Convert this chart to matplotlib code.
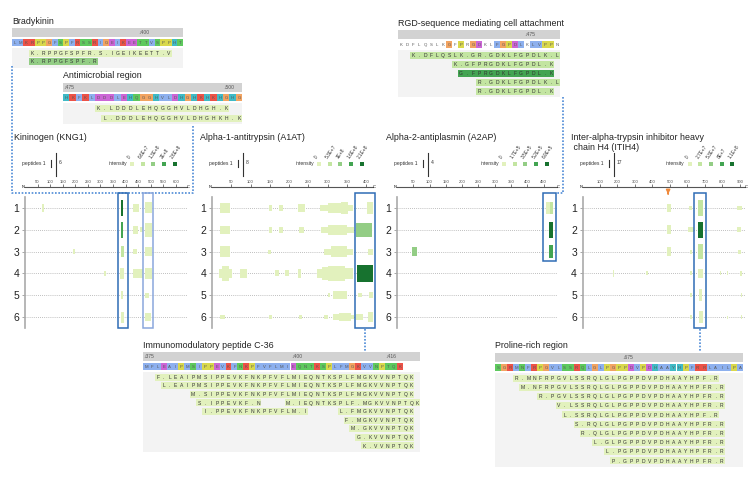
import numpy as np
import matplotlib.pyplot as plt
from matplotlib.patches import Rectangle

plt.rcParams['font.family'] = ['Liberation Sans', 'DejaVu Sans']

# ---------------- data ----------------
# intensity colour scale, level 0 (lowest) .. 4 (highest)
greens = ['#e2f1bd', '#c3e5a1', '#93cd85', '#43a452', '#17722f']

aa_colors = {}
for a in 'AILMFWVC':
    aa_colors[a] = '#8db0ee'
for a in 'KR':
    aa_colors[a] = '#ec5247'
for a in 'ED':
    aa_colors[a] = '#cc66d6'
for a in 'NQST':
    aa_colors[a] = '#5ec95e'
for a in 'HY':
    aa_colors[a] = '#3fbac6'
aa_colors['G'] = '#f2a462'
aa_colors['P'] = '#d9d84c'

# sequence blocks: sequence, number of first residue, marked residues,
# peptides = (text, sequence index of first char, intensity level)
brady_seq = 'LMKRPPGFSPFRSSRIGEIKEETTVSPPHT'
brady_first = 378
brady_marks = [400]
brady_peps = [('K.RPPGFSPFR.S.IGEIKEETT.V', 3, 0), ('K.RPPGFSPF.R', 3, 2)]

anti_seq = 'HKFKLDDDLEHQGGHVLDHGHKHKHGHG'
anti_first = 475
anti_marks = [475, 500]
anti_peps = [('K.LDDDLEHQGGHVLDHGH.K', 5, 0), ('L.DDDLEHQGGHVLDHGHKH.K', 6, 0)]

rgd_seq = 'KDFLQSLKGFPRGDKLFGPDLKLVPPN'
rgd_colored = '000000001010110011111011110'
rgd_first = 454
rgd_marks = [475]
rgd_peps = [('K.DFLQSLK.GR.GDKLFGPDLK.L', 2, 1), ('K.GFPRGDKLFGPDL.K', 9, 1),
            ('G.FPRGDKLFGPDL.K', 10, 3), ('R.GDKLFGPDLK.L', 13, 1),
            ('R.GDKLFGPDL.K', 13, 1)]

c36_seq = 'MFLEAIPMSIPPEVKFNKPFVFLMIEQNTKSPLFMGKVVNPTQK'
c36_first = 375
c36_marks = [375, 400, 416]
c36_peps = [[('F.LEAIPMSIPPEVKFNKPFVFLMIEQNTKSPLFMGKVVNPTQK', 2, 0)],
            [('L.EAIPMSIPPEVKFNKPFVFLMIEQNTKSPLFMGKVVNPTQK', 3, 0)],
            [('M.SIPPEVKFNKPFVFLMIEQNTKSPLFMGKVVNPTQK', 8, 0)],
            [('S.IPPEVKF.N', 9, 0), ('M.IEQNTKSPLF.MGKVVNPTQK', 24, 0)],
            [('I.PPEVKFNKPFVFLM.I', 10, 0), ('L.FMGKVVNPTQK', 33, 0)],
            [('F.MGKVVNPTQK', 34, 0)],
            [('M.GKVVNPTQK', 35, 0)],
            [('G.KVVNPTQK', 36, 0)],
            [('K.VVNPTQK', 37, 0)]]

pro_seq = 'SGRMNFRPGVLSSRQLGLPGPPDVPDHAAYHPFRRLAILPA'
pro_first = 654
pro_marks = [675]
pro_peps = [('R.MNFRPGVLSSRQLGLPGPPDVPDHAAYHPF.R', 3, 0),
            ('M.NFRPGVLSSRQLGLPGPPDVPDHAAYHPFR.R', 4, 0),
            ('R.PGVLSSRQLGLPGPPDVPDHAAYHPFR.R', 7, 0),
            ('V.LSSRQLGLPGPPDVPDHAAYHPFR.R', 10, 0),
            ('L.SSRQLGLPGPPDVPDHAAYHPF.R', 11, 0),
            ('S.RQLGLPGPPDVPDHAAYHPFR.R', 13, 0),
            ('R.QLGLPGPPDVPDHAAYHPFR.R', 14, 0),
            ('L.GLPGPPDVPDHAAYHPFR.R', 16, 0),
            ('L.PGPPDVPDHAAYHPFR.R', 18, 0),
            ('P.GPPDVPDHAAYHPFR.R', 19, 0)]

# protein panels: peptide clusters = (sample, start res, end res, n peptides, level)
kng1_len, kng1_max = 644, 6
kng1_int = ['0', '6.6E+7', '1.3E+8', '2E+8', '2.6E+8']
kng1_pep = [(1, 66, 77, 3, 0), (1, 381, 390, 6, 4), (1, 430, 452, 3, 0), (1, 476, 504, 4, 0),
            (2, 381, 390, 6, 3), (2, 430, 450, 3, 0), (2, 456, 468, 2, 0), (2, 476, 504, 5, 0),
            (3, 190, 198, 2, 0), (3, 381, 393, 4, 1), (3, 430, 447, 2, 0), (3, 479, 503, 3, 0),
            (4, 313, 321, 2, 0), (4, 378, 392, 4, 0), (4, 430, 469, 3, 0), (4, 478, 504, 4, 0),
            (5, 381, 390, 3, 0), (5, 479, 492, 2, 0),
            (6, 380, 392, 4, 0), (6, 479, 499, 3, 0)]

a1at_len, a1at_max = 418, 8
a1at_int = ['0', '5.3E+7', '1E+8', '1.6E+8', '2.1E+8']
a1at_pep = [(1, 21, 47, 5, 0), (1, 148, 156, 3, 0), (1, 174, 184, 3, 0), (1, 223, 241, 4, 0),
            (1, 280, 300, 3, 0), (1, 300, 335, 5, 0), (1, 335, 352, 6, 0), (1, 352, 365, 3, 0),
            (1, 402, 417, 6, 0),
            (2, 21, 47, 4, 0), (2, 148, 156, 3, 0), (2, 174, 184, 3, 0), (2, 225, 238, 3, 0),
            (2, 282, 300, 3, 0), (2, 300, 350, 5, 0), (2, 350, 368, 3, 0), (2, 375, 415, 7, 2),
            (3, 21, 47, 5, 0), (3, 146, 154, 2, 0), (3, 290, 310, 3, 0), (3, 310, 350, 5, 0),
            (3, 350, 366, 3, 0), (3, 405, 417, 3, 0),
            (4, 19, 27, 4, 0), (4, 27, 45, 7, 0), (4, 45, 51, 4, 0), (4, 72, 90, 4, 0),
            (4, 164, 173, 3, 0), (4, 190, 200, 3, 0), (4, 222, 232, 4, 0), (4, 272, 285, 4, 0),
            (4, 285, 300, 6, 0), (4, 300, 345, 7, 0), (4, 345, 366, 5, 0), (4, 376, 418, 8, 4),
            (5, 302, 307, 2, 0), (5, 315, 350, 4, 0), (5, 380, 390, 2, 0), (5, 407, 417, 3, 0),
            (6, 21, 35, 2, 0), (6, 149, 155, 2, 0), (6, 226, 233, 2, 0), (6, 292, 300, 2, 0),
            (6, 315, 330, 3, 0), (6, 330, 360, 4, 0), (6, 360, 368, 2, 0), (6, 374, 392, 3, 0),
            (6, 405, 418, 5, 0)]

a2ap_len, a2ap_max = 491, 4
a2ap_int = ['0', '1.7E+5', '3.5E+5', '5.2E+5', '6.9E+5']
a2ap_pep = [(1, 458, 468, 3, 0), (1, 468, 480, 3, 1),
            (2, 465, 480, 4, 4),
            (3, 46, 62, 2, 2), (3, 466, 480, 3, 3)]

itih4_len, itih4_max = 930, 17
itih4_int = ['0', '2.7E+7', '5.3E+7', '8E+7', '1.1E+8']
itih4_pep = [(1, 483, 505, 9, 0), (1, 610, 625, 5, 0), (1, 660, 690, 16, 1), (1, 885, 910, 5, 0),
             (2, 483, 505, 9, 0), (2, 605, 640, 5, 0), (2, 660, 690, 17, 4), (2, 885, 905, 5, 0),
             (3, 483, 505, 10, 0), (3, 615, 625, 4, 0), (3, 660, 690, 16, 1), (3, 890, 905, 4, 0),
             (4, 172, 182, 7, 0), (4, 362, 375, 4, 0), (4, 615, 625, 4, 0), (4, 660, 690, 10, 0),
             (4, 785, 795, 4, 0), (4, 825, 835, 4, 0), (4, 900, 915, 5, 0),
             (5, 615, 625, 4, 0), (5, 665, 685, 12, 0), (5, 905, 915, 4, 0),
             (6, 615, 625, 4, 0), (6, 665, 688, 12, 0), (6, 825, 835, 3, 0), (6, 905, 915, 4, 0)]
itih4_site = 490  # orange arrow

# ---------------- drawing ----------------
W, H = 755, 478
fig = plt.figure(figsize=(W / 100, H / 100), dpi=100)


def px_axes(x, y, w, h):
    ax = fig.add_axes([x / W, 1 - (y + h) / H, w / W, h / H])
    ax.set_facecolor('none')
    return ax


def draw_block(x0, top, cw, sp, title, seq, first, marks, rows, colored=None):
    rows = [r if isinstance(r, list) else [r] for r in rows]
    n = max([len(seq)] + [s + len(t) for r in rows for t, s, _ in r])
    hgt = 25 + sp * (len(rows) - 1) + 6
    ax = px_axes(x0, top, n * cw, hgt)
    ax.set_xlim(0, n)
    ax.set_ylim(hgt, 0)
    ax.axis('off')
    ax.add_patch(Rectangle((0, 0), n, 9, color='#d2d2d2', lw=0))
    for r in marks:
        ax.text(r - first + 0.1, 4.8, '\u2193' + str(r), fontsize=3.6, color='#555',
                ha='left', va='center')
    cols = [aa_colors[a] if (colored is None or colored[i] == '1') else 'white'
            for i, a in enumerate(seq)]
    ax.bar(np.arange(len(seq)), 7, bottom=11, width=1, align='edge', color=cols, lw=0)
    for i, a in enumerate(seq):
        ax.text(i + 0.5, 14.6, a, fontsize=3.1, color='#555', ha='center', va='center')
    ax.add_patch(Rectangle((0, 20), n, hgt - 20, color='#f3f3f3', lw=0))
    for k, row in enumerate(rows):
        y = 25 + sp * k
        for txt, s, lvl in row:
            ax.bar(s, 7, bottom=y - 3.5, width=len(txt), align='edge', color=greens[lvl], lw=0)
            for j, ch in enumerate(txt):
                ax.text(s + j + 0.5, y + 0.3, ch, fontsize=3.6, color='#333',
                        ha='center', va='center')
    ax.text(0, -2.5, title, fontsize=6.4, color='#222', ha='left', va='bottom', clip_on=False)
    return ax


draw_block(12, 28, 5.7, 8.5, 'Bradykinin', brady_seq, brady_first, brady_marks, brady_peps)
draw_block(63, 83, 6.4, 10, 'Antimicrobial region', anti_seq, anti_first, anti_marks, anti_peps)
draw_block(398, 30, 6.0, 9, 'RGD-sequence mediating cell attachment', rgd_seq, rgd_first,
           rgd_marks, rgd_peps, colored=rgd_colored)
draw_block(143, 352, 5.9, 8.6, 'Immunomodulatory peptide C-36', c36_seq, c36_first,
           c36_marks, c36_peps)
draw_block(495, 353, 6.05, 9.2, 'Proline-rich region', pro_seq, pro_first, pro_marks, pro_peps)

over = px_axes(0, 0, W, H)
over.set_xlim(0, W)
over.set_ylim(H, 0)
over.axis('off')


def draw_panel(nx, cx, length, cmax, title, int_labels, peps, step, boxes):
    over.text(nx - 11.5, 133, title, fontsize=6.4, color='#222', ha='left', va='top',
              linespacing=1.15)
    # legend
    over.text(nx - 3, 163, 'peptides 1', fontsize=3.6, color='#333', va='center')
    over.plot([nx + 26, nx + 26], [160, 167], color='#333', lw=0.8)
    over.plot([nx + 31, nx + 31], [153, 176], color='#333', lw=0.8)
    over.text(nx + 34, 163, str(cmax), fontsize=3.6, color='#333', va='center')
    over.text(nx + 102, 163, 'intensity', fontsize=3.6, color='#333', va='center', ha='right')
    for k, lab in enumerate(int_labels):
        sx = nx + 107 + 10.7 * k
        over.scatter([sx], [164], marker='s', s=9, color=greens[k], lw=0)
        over.text(sx - 1, 160, lab, fontsize=3.4, color='#333', rotation=55,
                  rotation_mode='anchor', ha='left', va='bottom')
    # ruler
    axr = px_axes(nx, 187, cx - nx, 2)
    axr.set_xlim(0, length)
    axr.xaxis.tick_top()
    axr.set_xticks(np.arange(step, length, step))
    axr.tick_params(axis='x', length=2, width=0.5, labelsize=3, pad=0.5, colors='#444')
    axr.set_yticks([])
    for s in ['bottom', 'left', 'right']:
        axr.spines[s].set_visible(False)
    axr.spines['top'].set_color('#555')
    axr.spines['top'].set_linewidth(0.8)
    axr.text(0, 1, 'N', fontsize=3, ha='right', va='center', transform=axr.get_xaxis_transform())
    axr.text(length, 1, 'C', fontsize=3, ha='left', va='center',
             transform=axr.get_xaxis_transform())
    # sample rows
    ax = px_axes(nx, 197, cx - nx, 131)
    ax.set_xlim(0, length)
    ax.set_ylim(6.5, 0.5)
    ax.set_yticks(range(1, 7))
    ax.set_yticklabels([str(i) for i in range(1, 7)], fontsize=7.5, color='#222')
    ax.tick_params(axis='y', length=2, width=0.6, colors='#999', pad=2, labelcolor='#222')
    ax.set_xticks([])
    for s in ['top', 'right', 'bottom']:
        ax.spines[s].set_visible(False)
    ax.spines['left'].set_color('#aaaaaa')
    ax.spines['left'].set_linewidth(1.2)
    ax.yaxis.grid(True, linestyle=(0, (1, 1.5)), color='#aaaaaa', lw=0.6)
    ax.set_axisbelow(True)
    rows = np.array([p[0] for p in peps], dtype=float)
    st = np.array([p[1] for p in peps], dtype=float)
    en = np.array([p[2] for p in peps], dtype=float)
    hh = np.array([p[3] for p in peps], dtype=float) / cmax * 0.75
    cols = [greens[p[4]] for p in peps]
    ax.bar(st, hh, width=en - st, bottom=rows - hh / 2, align='edge', color=cols, lw=0,
           zorder=3)
    for b0, b1, y1, col in boxes:
        ax.add_patch(Rectangle((b0, 0.32), b1 - b0, y1 - 0.32, fill=False, ec=col, lw=1.1,
                               clip_on=False, zorder=4))
    return ax


dark_box, light_box = '#2f6cb5', '#8aa7dc'
draw_panel(25, 187, kng1_len, kng1_max, 'Kininogen (KNG1)', kng1_int, kng1_pep, 50,
           [(369, 409, 6.5, dark_box), (468, 508, 6.5, light_box)])
draw_panel(212, 373, a1at_len, a1at_max, 'Alpha-1-antitrypsin (A1AT)', a1at_int, a1at_pep, 50,
           [(370, 422, 6.5, dark_box)])
draw_panel(397, 557, a2ap_len, a2ap_max, 'Alpha-2-antiplasmin (A2AP)', a2ap_int, a2ap_pep, 50,
           [(449, 489, 3.43, dark_box)])
ax4 = draw_panel(582.5, 745, itih4_len, itih4_max,
                 'Inter-alpha-trypsin inhibitor heavy\n chain H4 (ITIH4)',
                 itih4_int, itih4_pep, 100, [(637, 706, 6.5, dark_box)])
ax4.annotate('', xy=(itih4_site, 0.5), xytext=(itih4_site, 0.2), annotation_clip=False,
             arrowprops=dict(arrowstyle='-|>', color='#f08a3c', lw=1.3, mutation_scale=5))

# dotted connectors between panels and detail blocks
dot = dict(color='#4d8ad6', lw=1.2, linestyle=(0, (1, 1)))
over.plot([12, 12, 193, 193], [66, 193, 193, 125], **dot)
over.plot([365, 365], [329, 351], **dot)
over.plot([563, 563, 557], [97, 193, 193], **dot)
over.plot([700, 700], [329, 352], **dot)

fig.savefig('out.png', dpi=100)
